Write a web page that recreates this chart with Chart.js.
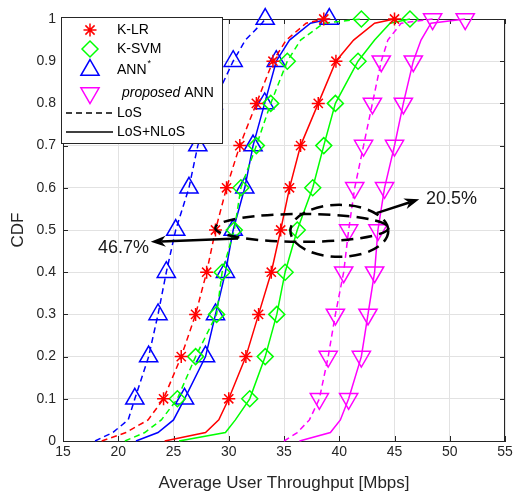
<!DOCTYPE html>
<html>
<head>
<meta charset="utf-8">
<title>CDF of average user throughput</title>
<script src="https://cdn.jsdelivr.net/npm/chart.js@4.4.1/dist/chart.umd.min.js"></script>
<style>
  html, body { margin: 0; padding: 0; background: #fff; }
  #wrap { width: 517px; height: 497px; }
</style>
</head>
<body>
<div id="wrap"><canvas id="cdfChart" width="517" height="497"></canvas></div>
<script>
'use strict';
/* ----------------------------------------------------------------------------------------------------DATA */
const cdfLevels = [0, 0.02, 0.05, 0.1, 0.2, 0.3, 0.4, 0.5, 0.6, 0.7, 0.8, 0.9, 0.95, 0.99, 1];
//CDF value for every throughput reading below (same index)

const klrLos = [18.5, 20.7, 22.7, 24.1, 25.7, 27.0, 28.0, 28.8, 29.8, 31.0, 32.5, 34.0, 35.2, 37.0, 38.6];
const klrAll = [24.2, 27.9, 29.1, 30.0, 31.55, 32.7, 33.85, 34.7, 35.5, 36.5, 38.1, 39.7, 41.3, 43.2, 45.0];
const ksvmLos = [20.6, 22.4, 23.9, 25.35, 27.0, 28.9, 29.4, 30.5, 31.1, 32.5, 33.8, 35.3, 36.5, 38.6, 42.0];
const ksvmAll = [25.5, 29.7, 30.6, 31.9, 33.3, 34.35, 35.1, 36.2, 37.6, 38.6, 39.65, 41.7, 43.2, 44.6, 46.4];
const annLos = [17.9, 19.5, 20.9, 21.5, 22.75, 23.6, 24.35, 25.2, 26.4, 27.2, 28.6, 30.4, 31.5, 33.0, 33.3];
const annAll = [21.6, 23.6, 25.0, 26.0, 27.9, 28.8, 29.7, 30.4, 31.45, 32.2, 33.25, 34.3, 35.5, 37.4, 39.1];
const propLos = [35.0, 36.2, 37.3, 38.2, 39.0, 39.65, 40.4, 40.85, 41.4, 42.2, 43.0, 43.8, 44.4, 45.6, 48.45];
const propAll = [36.4, 39.2, 40.1, 40.85, 42.0, 42.6, 43.2, 43.5, 44.1, 45.0, 45.8, 46.7, 47.4, 48.3, 51.4];
//throughput in Mbps, LoS = dashed curves, All = LoS+NLoS solid curves

const xTicks = [15, 20, 25, 30, 35, 40, 45, 50, 55];
const yTicks = [0, 0.1, 0.2, 0.3, 0.4, 0.5, 0.6, 0.7, 0.8, 0.9, 1];

const ellipses = [
  {cx: 36.61, cy: 0.505, rx: 7.83, ry: 0.033},
  {cx: 40.01, cy: 0.498, rx: 4.43, ry: 0.0616}
];
const arrows = [
  {x1: 30.84, y1: 0.480, x2: 22.94, y2: 0.472, text: '46.7%', tx: 22.79, ty: 0.457, align: 'right'},
  {x1: 43.37, y1: 0.540, x2: 47.24, y2: 0.573, text: '20.5%', tx: 47.84, ty: 0.5735, align: 'left'}
];
//annotation positions, given in axis units

const RED = '#ff0000';
const GREEN = '#00ff00';
const BLUE = '#0000ff';
const MAGENTA = '#ff00ff';
const INK = '#262626';
const FONT = '"Liberation Sans", Arial, sans-serif';


/* ----------------------------------------------------------------------------------------------------HELPERS */
function isMarker(i){
  const level = cdfLevels[i];
  return level >= 0.1 && Math.abs(level * 10 - Math.round(level * 10)) < 1e-9;
}
//markers only sit on the 0.1, 0.2 ... 1 levels

function makeSeries(values, color, style, rotation, radius, dashed){
  return {
    data: values.map((v, i) => ({x: v, y: cdfLevels[i]})),
    showLine: true,
    clip: false,
    borderColor: color,
    borderWidth: 1.5,
    borderDash: dashed ? [6, 4] : [],
    pointStyle: style,
    rotation: rotation,
    pointBorderColor: color,
    pointBackgroundColor: 'rgba(0,0,0,0)',
    pointBorderWidth: 1.5,
    pointRadius: ctx => isMarker(ctx.dataIndex) ? radius : 0,
    pointHoverRadius: 0,
    tension: 0
  };
}

function drawArrow(ctx, x1, y1, x2, y2){
  const ang = Math.atan2(y2 - y1, x2 - x1);
  const len = 15;
  const half = 5.5;
  const bx = x2 - Math.cos(ang) * len * 0.7;
  const by = y2 - Math.sin(ang) * len * 0.7;
  ctx.beginPath();
  ctx.moveTo(x1, y1);
  ctx.lineTo(bx, by);
  ctx.stroke();
  ctx.beginPath();
  ctx.moveTo(x2, y2);
  ctx.lineTo(x2 - Math.cos(ang) * len - Math.sin(ang) * half, y2 - Math.sin(ang) * len + Math.cos(ang) * half);
  ctx.lineTo(bx, by);
  ctx.lineTo(x2 - Math.cos(ang) * len + Math.sin(ang) * half, y2 - Math.sin(ang) * len - Math.cos(ang) * half);
  ctx.closePath();
  ctx.fill();
}


/* ----------------------------------------------------------------------------------------------------PLUGINS */
const boxPlugin = {
  id: 'boxPlugin',
  beforeDatasetsDraw(chart){
    const {ctx, chartArea: a, scales} = chart;
    ctx.save();
    ctx.strokeStyle = INK;
    ctx.lineWidth = 1;
    ctx.strokeRect(Math.round(a.left) + 0.5, Math.round(a.top) + 0.5, Math.round(a.right - a.left) - 1, Math.round(a.bottom - a.top));
    ctx.beginPath();
    for (let t of xTicks){
      const px = Math.round(scales.x.getPixelForValue(t)) + 0.5;
      ctx.moveTo(px, a.bottom); ctx.lineTo(px, a.bottom - 5);
      ctx.moveTo(px, a.top); ctx.lineTo(px, a.top + 5);
    }
    for (let t of yTicks){
      const py = Math.round(scales.y.getPixelForValue(t)) + 0.5;
      ctx.moveTo(a.left, py); ctx.lineTo(a.left + 5, py);
      ctx.moveTo(a.right, py); ctx.lineTo(a.right - 5, py);
    }
    ctx.stroke();
    ctx.restore();
  }
};
//MATLAB style closed box with inward ticks

const notePlugin = {
  id: 'notePlugin',
  afterDatasetsDraw(chart){
    const {ctx, scales} = chart;
    const xs = scales.x;
    const ys = scales.y;
    ctx.save();
    ctx.strokeStyle = '#000';
    ctx.fillStyle = '#000';
    ctx.lineWidth = 2.5;
    ctx.setLineDash([12, 7]);
    for (let e of ellipses){
      const cx = xs.getPixelForValue(e.cx);
      const cy = ys.getPixelForValue(e.cy);
      const rx = xs.getPixelForValue(e.cx + e.rx) - cx;
      const ry = cy - ys.getPixelForValue(e.cy + e.ry);
      ctx.beginPath();
      ctx.ellipse(cx, cy, rx, ry, 0, 0, Math.PI * 2);
      ctx.stroke();
    }
    ctx.setLineDash([]);
    ctx.lineWidth = 2.5;
    ctx.font = '18px ' + FONT;
    ctx.textBaseline = 'middle';
    for (let ar of arrows){
      drawArrow(ctx, xs.getPixelForValue(ar.x1), ys.getPixelForValue(ar.y1), xs.getPixelForValue(ar.x2), ys.getPixelForValue(ar.y2));
      ctx.fillStyle = '#1a1a1a';
      ctx.textAlign = ar.align;
      ctx.fillText(ar.text, xs.getPixelForValue(ar.tx), ys.getPixelForValue(ar.ty));
      ctx.fillStyle = '#000';
    }
    ctx.restore();
  }
};
//dashed ellipses and the two percentage arrows

const legendPlugin = {
  id: 'legendPlugin',
  afterDatasetsDraw(chart){
    const ctx = chart.ctx;
    ctx.save();
    ctx.fillStyle = '#fff';
    ctx.fillRect(61.5, 17.5, 161, 126);
    ctx.strokeStyle = INK;
    ctx.lineWidth = 1;
    ctx.strokeRect(61.5, 17.5, 161, 126);

    const marks = [
      {color: RED, style: 'star', rotation: 0, radius: 6.5, y: 30},
      {color: GREEN, style: 'rectRot', rotation: 0, radius: 8, y: 49},
      {color: BLUE, style: 'triangle', rotation: 0, radius: 10.5, y: 70},
      {color: MAGENTA, style: 'triangle', rotation: 180, radius: 10.5, y: 93}
    ];
    for (let m of marks){
      ctx.strokeStyle = m.color;
      ctx.fillStyle = 'rgba(0,0,0,0)';
      ctx.lineWidth = 1.5;
      Chart.helpers.drawPoint(ctx, {pointStyle: m.style, rotation: m.rotation, radius: m.radius, borderWidth: 1.5}, 90, m.y);
    }
    ctx.strokeStyle = '#000';
    ctx.lineWidth = 1.5;
    ctx.setLineDash([6, 4]);
    ctx.beginPath(); ctx.moveTo(66, 113); ctx.lineTo(113, 113); ctx.stroke();
    ctx.setLineDash([]);
    ctx.beginPath(); ctx.moveTo(66, 132); ctx.lineTo(113, 132); ctx.stroke();

    ctx.fillStyle = '#000';
    ctx.textBaseline = 'middle';
    ctx.textAlign = 'left';
    ctx.font = '14px ' + FONT;
    ctx.fillText('K-LR', 117, 30);
    ctx.fillText('K-SVM', 117, 49);
    ctx.fillText('ANN', 117, 70);
    const annWidth = ctx.measureText('ANN').width;
    ctx.font = '9px ' + FONT;
    ctx.fillText('*', 117 + annWidth + 1, 64);
    ctx.font = 'italic 14px ' + FONT;
    ctx.fillText('proposed', 122, 93);
    const propWidth = ctx.measureText('proposed').width;
    ctx.font = '14px ' + FONT;
    ctx.fillText(' ANN', 122 + propWidth, 93);
    ctx.fillText('LoS', 117, 113);
    ctx.fillText('LoS+NLoS', 117, 132);
    ctx.restore();
  }
};
//legend drawn by hand for the italic word and the superscript


/* ----------------------------------------------------------------------------------------------------CHART */
const chartCtx = document.getElementById('cdfChart').getContext('2d');

const cdfChart = new Chart(chartCtx, {
  type: 'scatter',
  data: {
    datasets: [
      makeSeries(annLos, BLUE, 'triangle', 0, 10.5, true),
      makeSeries(klrLos, RED, 'star', 0, 6.5, true),
      makeSeries(ksvmLos, GREEN, 'rectRot', 0, 8, true),
      makeSeries(propLos, MAGENTA, 'triangle', 180, 10.5, true),
      makeSeries(annAll, BLUE, 'triangle', 0, 10.5, false),
      makeSeries(klrAll, RED, 'star', 0, 6.5, false),
      makeSeries(ksvmAll, GREEN, 'rectRot', 0, 8, false),
      makeSeries(propAll, MAGENTA, 'triangle', 180, 10.5, false)
    ]
  },
  options: {
    responsive: false,
    animation: false,
    devicePixelRatio: 1,
    layout: {padding: {top: 19, right: 7, left: 0, bottom: 0}},
    plugins: {
      legend: {display: false},
      tooltip: {enabled: false}
    },
    scales: {
      x: {
        type: 'linear',
        min: 15,
        max: 55,
        afterBuildTicks: s => { s.ticks = xTicks.map(v => ({value: v})); },
        afterFit: s => { s.height = 56; },
        ticks: {color: INK, font: {family: FONT, size: 14}, padding: 3, maxRotation: 0},
        grid: {color: '#e2e2e2', drawTicks: false},
        border: {color: INK},
        title: {display: true, text: 'Average User Throughput [Mbps]', color: INK, font: {family: FONT, size: 17}, padding: {top: 0, bottom: 3}}
      },
      y: {
        type: 'linear',
        min: 0,
        max: 1,
        afterBuildTicks: s => { s.ticks = yTicks.map(v => ({value: v})); },
        afterFit: s => { s.width = 63; },
        ticks: {color: INK, font: {family: FONT, size: 14}, padding: 7, callback: v => String(+v.toFixed(1))},
        grid: {color: '#e2e2e2', drawTicks: false},
        border: {color: INK},
        title: {display: true, text: 'CDF', color: INK, font: {family: FONT, size: 17}, padding: {top: 8, bottom: 0}}
      }
    }
  },
  plugins: [boxPlugin, notePlugin, legendPlugin]
});
</script>
</body>
</html>
